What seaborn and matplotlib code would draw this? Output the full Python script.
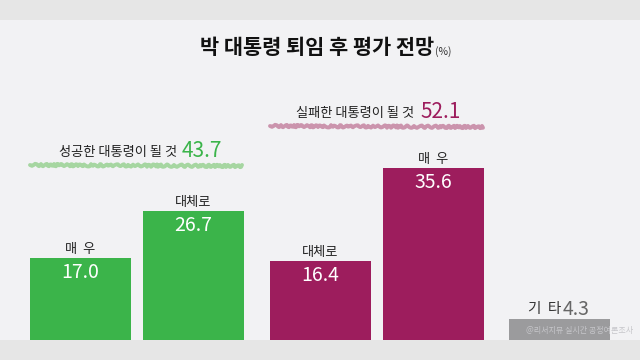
# 박 대통령 퇴임 후 평가 전망 - bar chart recreation
import pandas as pd
import seaborn as sns
import matplotlib.pyplot as plt
from matplotlib.lines import Line2D

# data
labels = ['매  우', '대체로', '대체로', '매  우', '기  타']
groups = ['성공', '성공', '실패', '실패', '기타']
values = [17.0, 26.7, 16.4, 35.6, 4.3]
totals = {'성공': 43.7, '실패': 52.1}
total_labels = {'성공': '성공한 대통령이 될 것', '실패': '실패한 대통령이 될 것'}

# layout (bar centres, with a little extra space between groups)
positions = [0, 1, 2.12, 3.12, 4.24]

green = '#3bb44a'
purple = '#9d1d5d'
grey = '#9b9b9d'
palette = {'성공': green, '실패': purple, '기타': grey}

df = pd.DataFrame({'pos': positions, 'value': values, 'group': groups, 'label': labels})

sns.set_style('white')
plt.rcParams['font.family'] = ['Noto Sans CJK KR', 'DejaVu Sans']

W, H = 640, 360
fig = plt.figure(figsize=(6.4, 3.6), dpi=100, facecolor='#e6e6e6')


def fx(x):
    return x / W


def fy(y):
    return 1 - y / H


# axes fills the light area between the two grey bands (y 20..340 px)
ax = fig.add_axes([0, 20 / H, 1, 320 / H])
ax.set_facecolor('#f2f2f4')

sns.barplot(data=df, x='pos', y='value', hue='group', palette=palette,
            native_scale=True, width=0.894, dodge=False, legend=False,
            saturation=1, linewidth=0, ax=ax)

ax.set_xlim(-0.712, 4.951)
ax.set_ylim(0, 320 / 4.82)
ax.set_xticks([])
ax.set_yticks([])
ax.set_xlabel('')
ax.set_ylabel('')
sns.despine(ax=ax, left=True, bottom=True)

# labels above and values inside the bars
for p, v, g, lab in zip(positions, values, groups, labels):
    if g == '기타':
        ax.text(p + 0.01, v + 2.1, lab, ha='right', va='center', fontsize=10.5, color='#333333')
        ax.text(p + 0.03, v + 2.1, f'{v:.1f}', ha='left', va='center', fontsize=14,
                color='#666666')
        continue
    ax.text(p, v + 1.8, lab, ha='center', va='center', fontsize=9.5, color='#222222')
    ax.text(p, v - 3.0, f'{v:.1f}', ha='center', va='center', fontsize=14, color='white')

# title
fig.text(fx(434), fy(48), '박 대통령 퇴임 후 평가 전망', ha='right', va='center',
         fontsize=15, fontweight='bold', color='#111111')
fig.text(fx(435), fy(52), '(%)', ha='left', va='center', fontsize=7.5, color='#333333')

# group totals with a hand drawn underline
fig.text(fx(177), fy(152), total_labels['성공'], ha='right', va='center', fontsize=9.5, color='#222222')
fig.text(fx(182), fy(151), f"{totals['성공']}", ha='left', va='center', fontsize=15, color=green)
fig.text(fx(414), fy(113), total_labels['실패'], ha='right', va='center', fontsize=9.5, color='#222222')
fig.text(fx(420), fy(112), f"{totals['실패']}", ha='left', va='center', fontsize=15, color=purple)

for (x0, x1, y, c) in [(30, 242, 165, '#93cf8c'), (270, 483, 126, '#c27d9b')]:
    line = Line2D([fx(x0), fx(x1)], [fy(y), fy(y + 1)], transform=fig.transFigure,
                  color=c, linewidth=2.8, alpha=0.8, solid_capstyle='round')
    line.set_sketch_params(scale=1.2, length=6, randomness=3)
    fig.add_artist(line)

# source
fig.text(fx(526), fy(330), '@리서치뷰 실시간 공정여론조사', ha='left', va='center',
         fontsize=5.8, color='#c6c6ca')

fig.savefig('out.png', dpi=100, facecolor=fig.get_facecolor())
